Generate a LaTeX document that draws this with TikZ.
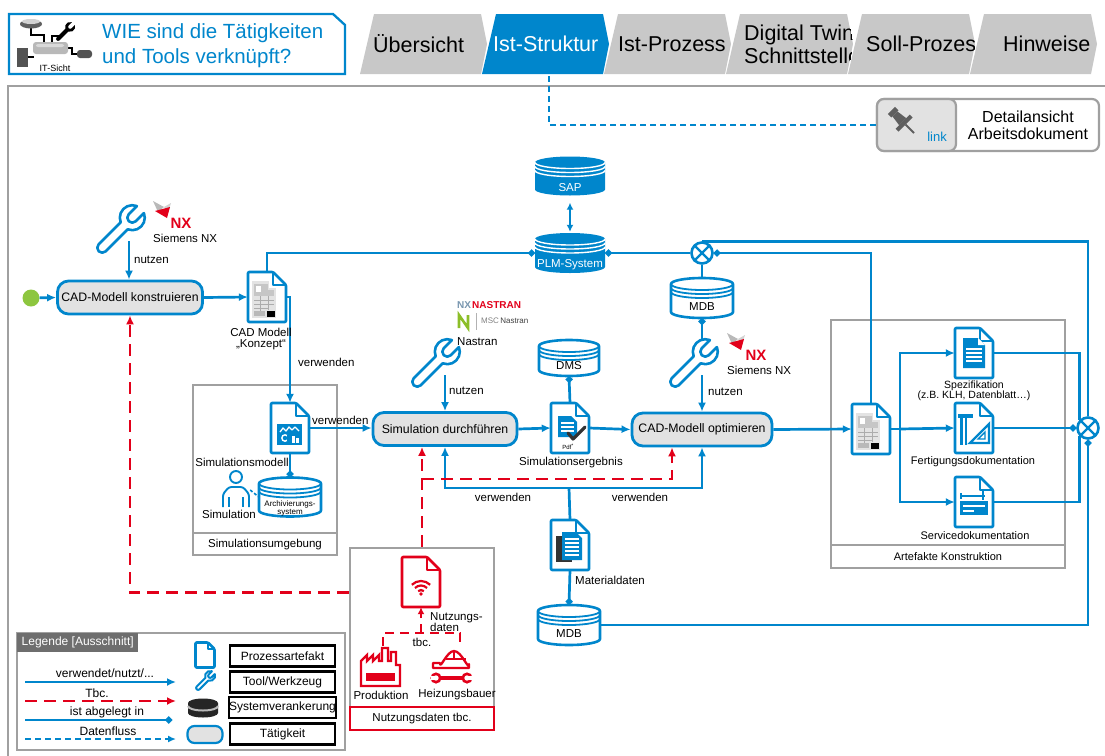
\documentclass[tikz,border=0pt]{standalone}
\usepackage{fontspec}
\setmainfont{Liberation Sans}
\usetikzlibrary{arrows.meta,calc}

\definecolor{bl}{RGB}{0,134,204}
\definecolor{rd}{RGB}{226,0,26}
\definecolor{boxgray}{RGB}{226,226,226}
\definecolor{framegray}{RGB}{160,160,160}
\definecolor{tabgray}{RGB}{200,200,200}
\definecolor{startgreen}{RGB}{141,198,63}
\definecolor{pingray}{RGB}{95,95,95}
\definecolor{legendgray}{RGB}{110,110,110}
\definecolor{nxgray}{RGB}{120,150,175}
\definecolor{msgreen}{RGB}{140,190,40}

\newcommand\fs[2]{\fontsize{#1}{#2}\selectfont}

% outline database cylinder: x, y, width, height
\newcommand\DBOut[4]{%
  \begin{scope}[shift={(#1,#2)}]
    \pgfmathsetmacro\hw{#3/2}%
    \pgfmathsetmacro\hh{#4/2}%
    \draw[draw=bl, line width=2.6pt, fill=white, line join=round]
      ({-\hw},{-\hh+6}) -- ({-\hw},{\hh-6})
      arc[start angle=180, end angle=0, x radius=\hw, y radius=6]
      -- ({\hw},{-\hh+6})
      arc[start angle=0, end angle=-180, x radius=\hw, y radius=6] -- cycle;
    \foreach \o in {0,4,8}
      \draw[draw=bl, line width=1.8pt] ({-\hw},{-\hh+6+\o})
        arc[start angle=180, end angle=0, x radius=\hw, y radius=6];
  \end{scope}}

% filled database cylinder with white rings: x, y, width, height
\newcommand\DBFill[4]{%
  \begin{scope}[shift={(#1,#2)}]
    \pgfmathsetmacro\hw{#3/2}%
    \pgfmathsetmacro\hh{#4/2}%
    \fill[bl]
      ({-\hw},{-\hh+6}) -- ({-\hw},{\hh-6})
      arc[start angle=180, end angle=0, x radius=\hw, y radius=6]
      -- ({\hw},{-\hh+6})
      arc[start angle=0, end angle=-180, x radius=\hw, y radius=6] -- cycle;
    \foreach \o in {0,4,8}
      \draw[white, line width=1.4pt] ({-\hw},{-\hh+6+\o})
        arc[start angle=180, end angle=0, x radius=\hw, y radius=6];
  \end{scope}}

% navigation tab: name, left foot x, fill, text colour, text x, text
\newcommand\TabItem[6]{%
  \begin{scope}
    \fill[#3] ({#2+14},14) -- ({#2+121},14) -- ({#2+127},44) -- ({#2+121},74) -- (#2,74) -- cycle;
    \clip ({#2+14},14) -- ({#2+121},14) -- ({#2+127},44) -- ({#2+121},74) -- (#2,74) -- cycle;
    \node[tabtext, text=#4, anchor=west] (#1) at (#5,44) {#6};
  \end{scope}}

% rendering of the boiler model inside a document
\newcommand\Boiler[2]{%
  \begin{scope}[shift={(#1,#2)}]
    \fill[gray!22] (-13,-11) rectangle (11,19);
    \fill[gray!22] (-13,-18) rectangle (4,-11);
    \fill[gray!45] (-11,-15) rectangle (3,-3);
    \fill[gray!45] (3,-9) rectangle (9,-3);
    \fill[white] (-9,-13) rectangle (-4,-7);
    \draw[gray!65, line width=0.7pt] (-11,1) -- (9,1) (-11,5) -- (9,5) (-11,9) -- (4,9)
      (-5,-3) -- (-5,12) (3,-3) -- (3,11);
    \fill[gray!55] (-11,12) rectangle (0,17);
    \fill[black] (2,12) rectangle (10,18);
  \end{scope}}

\tikzset{
  pics/doc/.style={code={
    \draw[draw=#1, line width=2.6pt, fill=white, line join=round, rounded corners=1pt]
      (-19,-25) -- (6,-25) -- (19,-12) -- (19,25) -- (-19,25) -- cycle;
    \draw[draw=#1, line width=2.2pt, line join=round] (6,-25) -- (6,-12) -- (19,-12);
  }},
  pics/wrench/.style={code={
    \path[#1, rotate=-45, line join=round]
      (4,28) -- (4,3.17) arc[start angle=66.4, end angle=-66.4, radius=10] -- (4,-6)
      arc[start angle=0, end angle=180, radius=4] -- (-4,-15.17)
      arc[start angle=-113.6, end angle=-246.4, radius=10] -- (-4,28)
      arc[start angle=180, end angle=0, radius=4] -- cycle;
  }},
  pics/nxmark/.style={code={
    \fill[gray!55] (0,0) -- (11,6) -- (5,11) -- cycle;
    \fill[gray!35] (11,6) -- (18,2) -- (15,11) -- cycle;
    \fill[rd] (2,10) -- (17,6) -- (14,17) -- cycle;
  }},
}

\begin{document}
\begin{tikzpicture}[x=1pt, y=-1pt,
  lbl/.style={inner sep=0pt, font=\fs{11.5}{13}},
  act/.style={draw=bl, line width=2.8pt, fill=boxgray, rounded corners=11pt,
    minimum height=33pt, inner sep=0pt, font=\fs{12.3}{14}},
  slot/.style 2 args={inner sep=0pt, minimum width=#1pt, minimum height=#2pt},
  line/.style={draw=bl, line width=2.7pt},
  flow/.style={line, -{Latex[length=9pt,width=8pt]}},
  stored/.style={line, -{Circle[length=6.5pt]}},
  tbc/.style={draw=rd, line width=2.8pt, dash pattern=on 12pt off 7pt, -{Latex[length=9pt,width=8pt]}},
  tbcthin/.style={draw=rd, line width=2.4pt, dash pattern=on 9pt off 6pt},
  dataflow/.style={draw=bl, line width=2.4pt, dash pattern=on 6pt off 4pt},
  gate/.style={circle, draw=bl, line width=2.6pt, fill=white, minimum size=21pt, inner sep=0pt},
  grayframe/.style={draw=framegray, line width=2.5pt},
  tabtext/.style={font=\fs{21.5}{23}, inner sep=0pt, align=left},
  lgbox/.style={draw=black, line width=2.6pt, fill=white, minimum width=105pt,
    minimum height=21pt, inner sep=0pt, font=\fs{12}{14}},
]
\useasboundingbox (0,0) rectangle (1105,755);

% ---------------- header ----------------
\draw[draw=bl, line width=2.3pt, fill=white] (9,14) -- (333,14) -- (345,25) -- (345,74) -- (9,74) -- cycle;
\begin{scope}[line width=1.6pt]
  \draw[black] (31,26) -- (31,35) -- (44,35) -- (44,43);
  \draw[black] (60,36) -- (52,36) -- (52,43);
  \draw[black] (68,48) -- (72,48) -- (72,54) -- (78,54);
  \draw[black] (27,57) -- (34,57);
\end{scope}
\fill[gray!75!black] (31,24) ellipse [x radius=11, y radius=4.5];
\fill[gray!35] (31,21.5) ellipse [x radius=9, y radius=2.5];
\fill[gray!55, rounded corners=3pt] (33,42) rectangle (68,54);
\fill[gray!30, rounded corners=2pt] (36,44) rectangle (64,47);
\fill[gray!65!black] (17,48) rectangle (28,67);
\fill[gray!65!black, rounded corners=3pt] (77,50) rectangle (92,58);
\pic[scale=0.5] at (68,29) {wrench={fill=black}};
\node[inner sep=0pt, font=\fs{9}{10}] (itsicht) at (55,68) {IT-Sicht};
\node[inner sep=0pt, font=\fs{20.5}{25}, text=bl, align=left, anchor=west] (title) at (102,45.5)
  {WIE sind die Tätigkeiten\\und Tools verknüpft?};

% ---------------- tabs ----------------
\TabItem{tabA}{360}{tabgray}{black}{373}{Übersicht}
\TabItem{tabB}{482}{bl}{white}{493}{Ist-Struktur}
\TabItem{tabC}{604}{tabgray}{black}{618}{Ist-Prozess}
\TabItem{tabD}{726}{tabgray}{black}{744}{Digital Twin\\Schnittstelle}
\TabItem{tabE}{848}{tabgray}{black}{866}{Soll-Prozess}
\TabItem{tabF}{970}{tabgray}{black}{1003}{Hinweise}

% ---------------- content frame ----------------
\draw[grayframe] (8,760) -- (8,86) -- (1110,86);

% link box
\node[draw=framegray, line width=2.2pt, fill=white, rounded corners=7pt, slot={222}{52}] (linkbox) at (988,125) {};
\node[draw=framegray, line width=2.2pt, fill=boxgray, rounded corners=7pt, slot={79}{52}] (linkicon) at (916.5,125) {};
\begin{scope}[shift={(902,121)}, rotate=45]
  \fill[pingray] (-5,-15) rectangle (5,-10);
  \fill[pingray] (-3.5,-10) -- (3.5,-10) -- (5,1) -- (-5,1) -- cycle;
  \fill[pingray] (-10,1) rectangle (10,5);
  \draw[pingray, line width=2pt] (0,5) -- (0,17);
\end{scope}
\node[inner sep=0pt, font=\fs{13}{14}, text=bl] (linkword) at (937,137) {link};
\node[inner sep=0pt, font=\fs{16}{17}, align=center] (linktext) at (1028,125.5) {Detailansicht\\Arbeitsdokument};
\coordinate (tabfoot) at (549,76);
\draw[dataflow] (tabfoot) |- (linkbox.west);

% ---------------- containers ----------------
\node[grayframe, slot={144}{170}] (simenv) at (265,470) {};
\draw[grayframe] (simenv.west |- 0,533) -- (simenv.east |- 0,533);
\node[lbl] (simenvlbl) at (265,545) {Simulationsumgebung};

\node[grayframe, slot={234}{248}] (artbox) at (948,444) {};
\draw[grayframe] (artbox.west |- 0,545) -- (artbox.east |- 0,545);
\node[lbl, font=\fs{11}{13}] (artboxlbl) at (948,557) {Artefakte Konstruktion};

\node[grayframe, slot={144}{182}] (nutzbox) at (422,639) {};

% ---------------- activities and anchors ----------------
\node[act, minimum width=145pt] (cadk) at (130,297.5) {CAD-Modell konstruieren};
\node[act, minimum width=144pt] (simd) at (445,429) {Simulation durchführen};
\node[act, minimum width=140pt] (cado) at (702,429.5) {CAD-Modell optimieren};
\node[circle, fill=startgreen, minimum size=17pt, inner sep=0pt] (start) at (31,298) {};

\node[slot={38}{50}] (cadm) at (267,297) {};
\node[slot={38}{50}] (simm) at (290,428) {};
\node[slot={38}{50}] (sime) at (570,428) {};
\node[slot={38}{50}] (matd) at (570,545) {};
\node[slot={38}{50}] (art) at (871,429) {};
\node[slot={38}{50}] (spec) at (974,353) {};
\node[slot={38}{50}] (fert) at (974,428) {};
\node[slot={38}{50}] (serv) at (974,502) {};
\node[slot={38}{50}] (nutz) at (421,582) {};

\node[slot={70}{39}] (sap) at (570,176) {};
\node[slot={70}{40}] (plm) at (570,253) {};
\node[slot={62}{40}] (mdbA) at (702,298) {};
\node[slot={60}{36}] (dms) at (569,358) {};
\node[slot={62}{40}] (mdbB) at (569,625) {};
\node[slot={62}{39}] (arch) at (290,497) {};
\node[slot={28}{36}] (person) at (236,490) {};

\node[gate] (gA) at (702,253) {};
\node[gate] (gB) at (1088,428) {};

\coordinate (wrAfoot) at (129,241);
\coordinate (wrBfoot) at (445,375);
\coordinate (wrCfoot) at (702,375);
\coordinate (wrCtop) at (702,343);
\coordinate (split) at (900,429);
\coordinate (fb) at (569,488);
\coordinate (rjoin) at (422,479);
\coordinate (nutzW) at ($(nutzbox.north west)!0.25!(nutzbox.south west)$);
\coordinate (fabtop) at (383,646);
\coordinate (heiztop) at (460,642);
\coordinate (rbranch) at (421,633);

% ---------------- connectors ----------------
\draw[flow] (start) -- (cadk.west);
\draw[flow] (wrAfoot) -- (wrAfoot |- cadk.north);
\draw[flow] (cadk.east) -- (cadm.west);
\draw[stored] (cadm.north) |- (plm.west);
\draw[line, {Circle[length=6.5pt]}-] (plm.east) -- (gA.west);
\draw[line, {Latex[length=7pt,width=7pt]}-{Latex[length=7pt,width=7pt]}, shorten <=7pt, shorten >=1pt] (sap.south) -- (plm.north);
\draw[line, {Circle[length=6.5pt]}-] (gA.east) -| (art.north);
\draw[line] (gA.north) -| (gB.north);
\draw[line] (gA.south) -- (mdbA.north);
\draw[line, {Circle[length=6.5pt]}-] (mdbA.south) -- (wrCtop);
\draw[flow] (wrCfoot) -- (wrCfoot |- cado.north);
\draw[flow] (cadm.east) -| (simm.north);
\draw[flow] (simm.east) -- (simm.east -| simd.west);
\draw[stored] (simm.south) -- (arch.north);
\draw[bl, line width=1.6pt, dash pattern=on 3pt off 2pt] (person.east) -- (arch.west);
\draw[flow] (wrBfoot) -- (wrBfoot |- simd.north);
\draw[flow] (simd.east) -- (sime.west);
\draw[stored] (sime.north) -- (dms.south);
\draw[flow] (sime.east) -- (cado.west);
\draw[flow] (cado.east) -- (art.west);
\draw[line] (art.east) -- (split);
\draw[flow] (split) |- (spec.west);
\draw[flow] (split) -- (fert.west);
\draw[flow] (split) |- (serv.west);
\draw[line] (spec.east) -| (gB.north west);
\draw[stored] (fert.east) -- (gB.west);
\draw[line] (serv.east) -| (gB.south west);
\draw[line, {Circle[length=6.5pt]}-] (gB.south) |- (mdbB.east);
\draw[line] (matd.north) -- (fb);
\draw[flow] (fb) -| (simd.south);
\draw[flow] (fb) -| (cado.south);
\draw[stored] (matd.south) -- (mdbB.north);

% tbc usage-data feedback
\draw[tbc] (nutzbox.north) -- (nutzbox.north |- simd.south);
\draw[tbc] (rjoin) -| ($(cado.south)+(-30,0)$);
\draw[tbc] (nutzW) -| (cadk.south);
\draw[tbcthin] (fabtop) -- (fabtop |- rbranch) -- (heiztop |- rbranch) -- (heiztop);
\draw[tbcthin, -{Latex[length=7pt,width=7pt]}] (rbranch) -- (nutz.south);

% gateways
\foreach \g in {gA,gB}
  \draw[bl, line width=2.2pt, shorten <=1.8pt, shorten >=1.8pt]
    (\g.north east) -- (\g.south west) (\g.north west) -- (\g.south east);

% ---------------- icons ----------------
\pic[scale=1.25] at (127,223) {wrench={draw=bl, fill=white, line width=2.6pt}};
\pic[scale=1.25] at (442,357) {wrench={draw=bl, fill=white, line width=2.6pt}};
\pic[scale=1.25] at (700,357) {wrench={draw=bl, fill=white, line width=2.6pt}};

\pic at (cadm) {doc=bl};  \Boiler{265}{299}
\pic at (art) {doc=bl};   \Boiler{869}{431}

\pic at (simm) {doc=bl};
\begin{scope}[shift={(290,428)}]
  \fill[bl] (-13,-4) rectangle (12,17);
  \draw[white, line width=1.3pt, line join=round] (-10,4) -- (-7,0) -- (-4,3) -- (-1,-1) -- (2,2) -- (5,-1) -- (9,3);
  \draw[white, line width=1.4pt] (-5,10) circle (3.2);
  \fill[bl] (-3,7) rectangle (-1,13);
  \fill[white] (2,8) rectangle (5,15);
  \fill[white] (6,10) rectangle (9,15);
\end{scope}

\pic at (sime) {doc=bl};
\begin{scope}[shift={(570,428)}]
  \fill[bl] (-12,-12) -- (1,-12) -- (7,-6) -- (7,9) -- (-12,9) -- cycle;
  \foreach \yy in {-5,-1,3} \draw[white, line width=1.1pt] (-9,\yy) -- (4,\yy);
  \draw[gray!40!black, line width=3.2pt, line cap=round, line join=round] (-2,5) -- (3,11) -- (15,-1);
\end{scope}
\node[inner sep=0pt, font=\fs{6}{6}] (pdf) at (568,447) {Pdf\textsuperscript{*}};

\pic at (matd) {doc=bl};
\begin{scope}[shift={(570,545)}]
  \fill[gray!40!black] (-14,-9) rectangle (2,17);
  \fill[bl] (-8,-13) -- (6,-13) -- (12,-7) -- (12,15) -- (-8,15) -- cycle;
  \foreach \yy in {-6,-2,2,6,10} \draw[white, line width=1.2pt] (-5,\yy) -- (9,\yy);
\end{scope}

\pic at (spec) {doc=bl};
\begin{scope}[shift={(974,353)}]
  \fill[bl] (-11,-15) -- (4,-15) -- (11,-8) -- (11,15) -- (-11,15) -- cycle;
  \fill[white] (4,-15) -- (4,-8) -- (11,-8) -- cycle;
  \foreach \yy in {-4,0,4,8} \draw[white, line width=1.2pt] (-8,\yy) -- (8,\yy);
\end{scope}

\pic at (fert) {doc=bl};
\begin{scope}[shift={(974,428)}]
  \fill[bl] (-16,-14) rectangle (-1,-10);
  \fill[bl] (-14,-10) rectangle (-11,17);
  \fill[bl] (-9,-10) rectangle (-7,17);
  \draw[bl, line width=2.4pt, line join=miter] (-4,15) -- (15,15) -- (15,-4) -- cycle;
  \draw[bl, line width=1.4pt] (4,11) -- (11,11) -- (11,4) -- cycle;
\end{scope}

\pic at (serv) {doc=bl};
\begin{scope}[shift={(974,502)}]
  \draw[bl, line width=1.2pt] (-13,-6) -- (11,-6);
  \draw[bl, line width=1.2pt] (-13,-9) -- (-13,-3);
  \draw[bl, line width=1.6pt] (9,-12) -- (9,-2);
  \fill[bl] (-14,-1) rectangle (14,13);
  \fill[white] (-11,3) rectangle (11,5);
  \fill[white] (-11,8) rectangle (0,10);
\end{scope}

\pic at (nutz) {doc=rd};
\begin{scope}[shift={(421,582)}, rd, line width=2.2pt]
  \foreach \r in {4,8.5,13}
    \draw ({\r*cos(225)},{12+\r*sin(225)}) arc[start angle=225, end angle=315, radius=\r];
  \fill (0,12) circle (1.8);
\end{scope}

\DBFill{570}{176}{70}{39}
\DBFill{570}{253}{70}{40}
\DBOut{702}{298}{62}{40}
\DBOut{569}{358}{60}{36}
\DBOut{569}{625}{62}{40}
\DBOut{290}{497}{62}{39}

% person (simulation engineer)
\draw[bl, line width=1.9pt, fill=white] (236,477) circle (6);
\draw[bl, line width=1.9pt, fill=white, rounded corners=2.5pt]
  (223,507) -- (223,494) -- (229,487) -- (243,487) -- (249,494) -- (249,507);
\draw[bl, line width=1.6pt] (229,497) -- (229,507) (243,497) -- (243,507);

% factory
\draw[rd, line width=2.3pt, line join=miter]
  (361,686) -- (361,661) -- (367,655) -- (367,661) -- (373,655) -- (373,661) -- (379,655)
  -- (379,661) -- (382,661) -- (382,648) -- (388,648) -- (388,661) -- (391,661) -- (391,652)
  -- (396,652) -- (396,665) -- (400,665) -- (400,686) -- cycle;
\fill[rd] (366,673) rectangle (395,681);

% heating installer: helmet and wrench
\draw[rd, line width=2.3pt, fill=white, line join=round]
  (433,668) -- (433,663) -- (440,663) to[out=-90,in=180] (454,651) to[out=0,in=-90] (469,664)
  -- (469,668) -- cycle;
\draw[rd, line width=1.5pt] (446,659) -- (466,659);
\draw[rd, line width=1.5pt] (454,652) -- (454,659);
\draw[rd, line width=3.6pt] (440,678) -- (463,678);
\draw[rd, line width=2.6pt] (436,678) circle (4.2) (467,678) circle (4.2);
\fill[white] (431,676.3) rectangle (436,679.7);
\fill[white] (467,676.3) rectangle (472.5,679.7);

% logos
\pic at (153,201) {nxmark};
\node[inner sep=0pt, font=\fs{15}{15}\bfseries, text=rd] (nxA) at (181,223) {NX};
\pic at (727,333) {nxmark};
\node[inner sep=0pt, font=\fs{15}{15}\bfseries, text=rd] (nxB) at (756,355) {NX};
\node[inner sep=0pt, anchor=west, font=\fs{10}{10}\bfseries, text=nxgray] (nxn1) at (457,305) {NX};
\node[inner sep=0pt, anchor=west, font=\fs{10}{10}\bfseries, text=rd] (nxn2) at (472,305) {NASTRAN};
\draw[msgreen, line width=2.6pt, line join=miter] (459,328) -- (459,315) -- (468,328) -- (468,315);
\draw[gray!60, line width=0.8pt] (476,313) -- (476,330);
\node[inner sep=0pt, anchor=west, font=\fs{8}{8}, text=gray] (msc) at (481,321) {MSC\,\textcolor{black!75}{Nastran}};

% ---------------- labels ----------------
\node[lbl, anchor=west] (lnutzA) at (134,260) {nutzen};
\node[lbl, anchor=west] (lsnxA) at (153,238) {Siemens NX};
\node[lbl, align=center, font=\fs{11.5}{11.5}] (lcadm) at (261,339) {CAD Modell\\„Konzept“};
\node[lbl, anchor=west] (lverwA) at (298,362) {verwenden};
\node[lbl] (lsimm) at (242,462) {Simulationsmodell};
\node[lbl, anchor=west] (lverwB) at (312,420) {verwenden};
\node[lbl] (lsim) at (229,514) {Simulation};
\node[lbl, align=center, font=\fs{8}{8}] (larch) at (290,508) {Archivierungs-\\system};
\node[lbl, anchor=west] (lnastran) at (457,342) {Nastran};
\node[lbl, anchor=west] (lnutzB) at (449,391) {nutzen};
\node[lbl] (ldms) at (569,366) {DMS};
\node[lbl] (lsime) at (571,463) {Simulationsergebnis};
\node[lbl, text=white] (lsap) at (570,188) {SAP};
\node[lbl, text=white] (lplm) at (570,265) {PLM-System};
\node[lbl] (lmdbA) at (702,307) {MDB};
\node[lbl, anchor=west] (lsnxB) at (727,370) {Siemens NX};
\node[lbl, anchor=west] (lnutzC) at (708,392) {nutzen};
\node[lbl] (lverwC) at (503,497) {verwenden};
\node[lbl] (lverwD) at (640,497) {verwenden};
\node[lbl, anchor=west] (lmatd) at (575,580) {Materialdaten};
\node[lbl] (lmdbB) at (569,634) {MDB};
\node[lbl, align=center, font=\fs{10.5}{10}] (lspec) at (974,391) {Spezifikation\\(z.B. KLH, Datenblatt…)};
\node[lbl, font=\fs{11}{13}] (lfert) at (973,462) {Fertigungsdokumentation};
\node[lbl, font=\fs{11}{13}] (lserv) at (975,536) {Servicedokumentation};
\node[lbl, anchor=north west, align=left, font=\fs{11.5}{9.5}] (lnutzd) at (430,612) {Nutzungs-\\daten};
\node[lbl] (ltbc) at (422,642) {tbc.};
\node[lbl] (lprod) at (381,695) {Produktion};
\node[lbl] (lheiz) at (457,695) {Heizungsbauer};
\node[draw=rd, line width=2.5pt, slot={144}{23}, font=\fs{11.5}{13}] (nutzlbl) at (422,718.5) {Nutzungsdaten tbc.};

% ---------------- legend ----------------
\node[draw=framegray, line width=2pt, fill=white, slot={328}{117}] (legend) at (181,691.5) {};
\node[fill=legendgray, text=white, anchor=north west, minimum width=121pt, minimum height=19pt,
  inner sep=0pt, font=\fs{12}{14}] (lgtitle) at (17,633) {Legende [Ausschnitt]};
\coordinate (lgA1) at (25,682); \coordinate (lgA2) at (176,682);
\coordinate (lgB1) at (25,701); \coordinate (lgB2) at (176,701);
\coordinate (lgC1) at (25,720); \coordinate (lgC2) at (172,720);
\coordinate (lgD1) at (25,739); \coordinate (lgD2) at (176,739);
\draw[flow] (lgA1) -- (lgA2);
\draw[tbc] (lgB1) -- (lgB2);
\draw[stored] (lgC1) -- (lgC2);
\draw[dataflow, -{Latex[length=8pt,width=7pt]}] (lgD1) -- (lgD2);
\node[lbl, font=\fs{12}{14}] (lgtA) at (105,673) {verwendet/nutzt/...};
\node[lbl, font=\fs{12}{14}] (lgtB) at (97,693) {Tbc.};
\node[lbl, font=\fs{12}{14}] (lgtC) at (107,712) {ist abgelegt in};
\node[lbl, font=\fs{12}{14}] (lgtD) at (108,731) {Datenfluss};
\pic[scale=0.5] at (205,655) {doc=bl};
\pic[scale=0.5] at (208,678) {wrench={draw=bl, fill=white, line width=2pt}};
\fill[black!85] (188,703) -- (188,713) arc[start angle=180, end angle=0, x radius=15, y radius=4.5]
  -- (218,703) arc[start angle=0, end angle=-180, x radius=15, y radius=4.5] -- cycle;
\draw[gray!55, line width=2pt] (188,706) arc[start angle=180, end angle=0, x radius=15, y radius=4.5];
\node[draw=bl, line width=2.2pt, fill=boxgray, rounded corners=7pt, slot={35}{17}] (lgact) at (205,734.5) {};
\node[lgbox] (lgp) at (282.5,656) {Prozessartefakt};
\node[lgbox] (lgw) at (282.5,682) {Tool/Werkzeug};
\node[lgbox] (lgs) at (282.5,707.5) {Systemverankerung};
\node[lgbox] (lgt) at (282.5,734) {Tätigkeit};

\end{tikzpicture}
\end{document}
